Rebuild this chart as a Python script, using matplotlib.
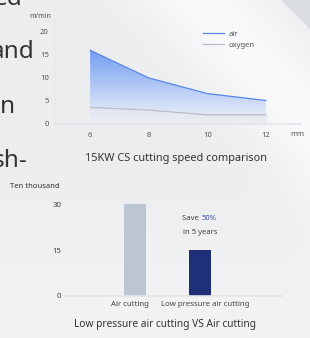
import numpy as np
import matplotlib.pyplot as plt
from matplotlib.colors import LinearSegmentedColormap

# top chart data
thickness = [6, 8, 10, 12]
air_speed = [16, 10, 6.6, 5.1]
oxygen_speed = [3.6, 3.0, 2.0, 2.0]
top_yticks = [0, 5, 10, 15, 20]

# bottom chart data
cut_methods = ['Air cutting', 'Low pressure air cutting']
cost = [30, 15]
bottom_yticks = [0, 15, 30]

W, H = 310, 338
fig = plt.figure(figsize=(W / 100, H / 100), dpi=100)
plt.rcParams['font.family'] = ['Noto Sans', 'DejaVu Sans']

# background
bg = fig.add_axes([0, 0, 1, 1])
yy, xx = np.mgrid[0:H, 0:W]
val = 0.925 + 0.05 * np.exp(-((xx - 0.9 * yy - 200) / 70.0) ** 2)
val += 0.02 * np.clip((yy - 150) / 150.0, 0, 1)
val = np.clip(val, 0, 1)
bg.imshow(np.dstack([val, val + 0.005, val + 0.012]).clip(0, 1), extent=[0, W, H, 0], aspect='auto')
bg.fill([282, 310, 310], [0, 0, 28], color='#d9dce1')
bg.set_xlim(0, W)
bg.set_ylim(H, 0)
bg.axis('off')

# cropped page text on the left
for s, xr, yb in [('ed', 22, 5), ('and', 35, 58), ('n', 15, 113), ('sh-', 27, 167)]:
    bg.text(xr, yb, s, ha='right', va='baseline', fontsize=17.5, color='#333333')


def px_axes(l, t, r, b):
    return fig.add_axes([l / W, 1 - b / H, (r - l) / W, (b - t) / H])


# ---------- top chart ----------
ax = px_axes(55, 18, 301, 124)
ax.set_xlim(4.8, 13.2)
ax.set_ylim(0, 23)
ax.patch.set_alpha(0)

cmap = LinearSegmentedColormap.from_list('g', ['#f3f5fa', '#739ef1'])
poly = ax.fill_between(thickness, 0, air_speed, color='none')
grad = np.linspace(0, 1, 100).reshape(-1, 1)
im = ax.imshow(grad, cmap=cmap, extent=[6, 12, 0, max(air_speed)], origin='lower',
               aspect='auto', zorder=1)
im.set_clip_path(poly.get_paths()[0], transform=ax.transData)
ax.fill_between(thickness, 0, oxygen_speed, color='#e6e8ec', alpha=0.6, zorder=2)
ax.plot(thickness, air_speed, color='#5a86e8', lw=0.9, label='air', zorder=3)
ax.plot(thickness, oxygen_speed, color='#b9bdc5', lw=0.9, label='oxygen', zorder=3)

ax.set_xticks(thickness)
ax.set_yticks(top_yticks)
ax.tick_params(length=0, labelsize=5.5, colors='#555555')
ax.tick_params(axis='y', pad=4.5)
ax.tick_params(axis='x', pad=6)
for sp in ['top', 'right']:
    ax.spines[sp].set_visible(False)
ax.spines['left'].set_color('#e6e8eb')
ax.spines['bottom'].set_color('#e3e5e8')
ax.spines['bottom'].set_linewidth(1.2)
ax.legend(loc='upper right', bbox_to_anchor=(0.84, 0.95), frameon=False, fontsize=5.5,
          handlelength=2.8, handletextpad=0.6, labelcolor='#555555')
bg.text(40, 16, 'm/min', fontsize=5, color='#555555', ha='center', va='center')
bg.text(297, 135, 'mm', fontsize=5.5, color='#555555', ha='center', va='center')
bg.text(176, 158, '15KW CS cutting speed comparison', fontsize=7.9, color='#333333',
        ha='center', va='center')

# ---------- bottom chart ----------
ax2 = px_axes(65, 189, 283, 296)
ax2.patch.set_alpha(0)
ax2.bar([0, 1], cost, width=0.35, color=['#bcc6d3', '#1f2f78'], zorder=2)
ax2.set_xlim(-1.08, 2.28)
ax2.set_ylim(0, 35)
ax2.set_xticks([-0.08, 1.085])
ax2.set_xticklabels(cut_methods)
ax2.set_yticks(bottom_yticks)
ax2.tick_params(length=0, labelsize=5.6, colors='#444444')
ax2.tick_params(axis='y', pad=2.5)
for sp in ['top', 'right', 'left']:
    ax2.spines[sp].set_visible(False)
ax2.spines['bottom'].set_color('#e3e5e8')
ax2.spines['bottom'].set_linewidth(1.2)
ax2.text(1.02, 25.2, 'Save ', fontsize=5.5, color='#444444', ha='right', va='center')
ax2.text(1.02, 25.2, '50%', fontsize=5.5, color='#3a4fa8', ha='left', va='center')
ax2.text(1.0, 20.8, 'in 5 years', fontsize=5.5, color='#444444', ha='center', va='center')
bg.text(35, 187, 'Ten thousand', fontsize=5.5, color='#333333', ha='center', va='center')
bg.text(165, 324, 'Low pressure air cutting VS Air cutting', fontsize=7.3, color='#333333',
        ha='center', va='center')

fig.savefig('out.png', dpi=100)
